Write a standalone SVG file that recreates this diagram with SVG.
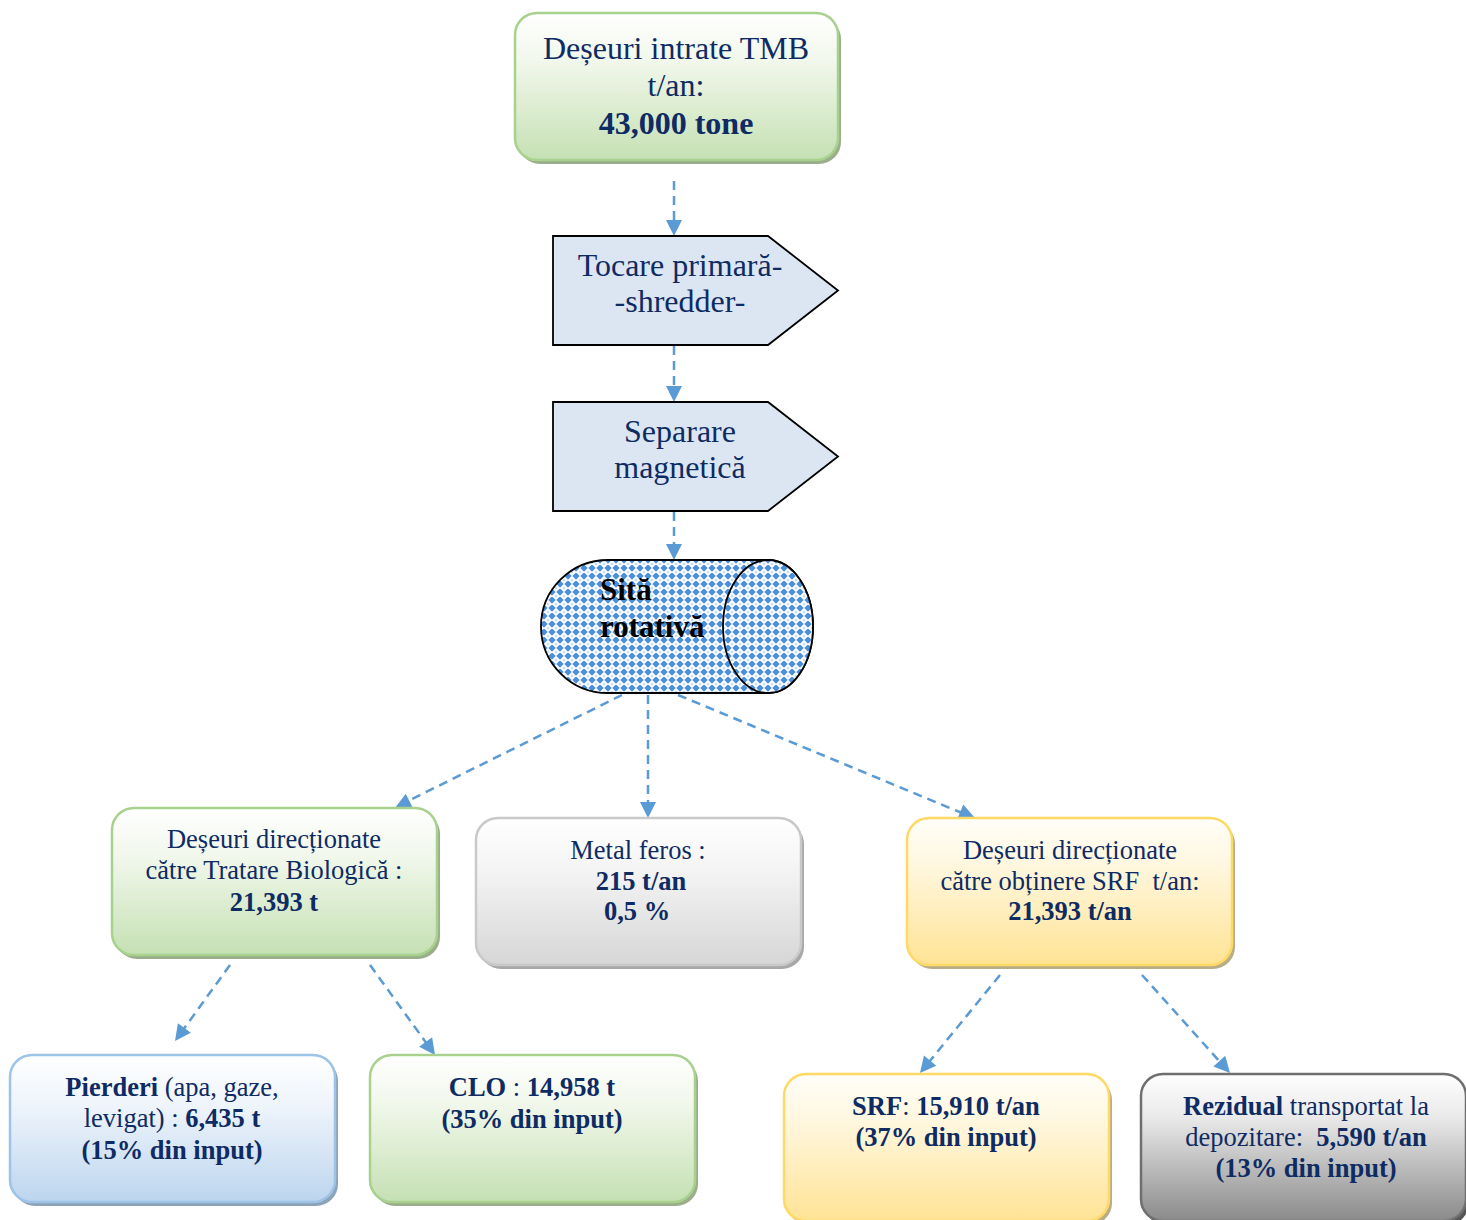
<svg xmlns="http://www.w3.org/2000/svg" width="1466" height="1220" viewBox="0 0 1466 1220">
<style>
.t{font-family:"Liberation Serif","Times New Roman",serif;fill:#0e2b63;text-anchor:middle}
.big{font-size:32px}
.sm{font-size:26.5px}
.b{font-weight:bold}
.conn{stroke:#5b9bd5;stroke-width:2.5;stroke-dasharray:9 6;fill:none}
.ahd{fill:#5b9bd5}
.shape{stroke:#000;stroke-width:1.8}
</style>
<defs>
<linearGradient id="gGreen" x1="0" y1="0" x2="0" y2="1"><stop offset="0" stop-color="#ffffff"/><stop offset="0.35" stop-color="#f0f7ea"/><stop offset="1" stop-color="#c5e0b3"/></linearGradient>
<linearGradient id="gGray" x1="0" y1="0" x2="0" y2="1"><stop offset="0" stop-color="#ffffff"/><stop offset="0.35" stop-color="#f4f4f4"/><stop offset="1" stop-color="#d6d6d6"/></linearGradient>
<linearGradient id="gYel" x1="0" y1="0" x2="0" y2="1"><stop offset="0" stop-color="#fffef8"/><stop offset="0.35" stop-color="#fff6dc"/><stop offset="1" stop-color="#ffe394"/></linearGradient>
<linearGradient id="gBlue" x1="0" y1="0" x2="0" y2="1"><stop offset="0" stop-color="#ffffff"/><stop offset="0.35" stop-color="#eef4fb"/><stop offset="1" stop-color="#bcd5ee"/></linearGradient>
<linearGradient id="gDark" x1="0" y1="0" x2="0" y2="1"><stop offset="0" stop-color="#ffffff"/><stop offset="0.3" stop-color="#e9e9e9"/><stop offset="1" stop-color="#8a8a8a"/></linearGradient>
<pattern id="net" width="8" height="8" patternUnits="userSpaceOnUse">
<rect width="8" height="8" fill="#4a90d9"/>
<path d="M4,-0.3 L8.3,4 L4,8.3 L-0.3,4 z" fill="#ffffff"/>
<path d="M4,2.4 L5.6,4 L4,5.6 L2.4,4 z" fill="#bcd8f3"/>
</pattern>
<path id="ah" d="M0,0 L-16,-8 L-16,8 z"/>
</defs>

<g id="connectors">
<line class="conn" x1="674" y1="181" x2="674" y2="222"/>
<use href="#ah" class="ahd" transform="translate(674,236) rotate(90)"/>
<line class="conn" x1="674" y1="346" x2="674" y2="388"/>
<use href="#ah" class="ahd" transform="translate(674,402) rotate(90)"/>
<line class="conn" x1="674" y1="512" x2="674" y2="546"/>
<use href="#ah" class="ahd" transform="translate(674,560) rotate(90)"/>
<line class="conn" x1="622" y1="695" x2="408" y2="801"/>
<use href="#ah" class="ahd" transform="translate(395,808) rotate(153.5)"/>
<line class="conn" x1="648" y1="695" x2="648" y2="804"/>
<use href="#ah" class="ahd" transform="translate(648,818) rotate(90)"/>
<line class="conn" x1="678" y1="695" x2="962" y2="813"/>
<use href="#ah" class="ahd" transform="translate(975,818) rotate(22.5)"/>
<line class="conn" x1="230" y1="965" x2="183" y2="1030"/>
<use href="#ah" class="ahd" transform="translate(175,1041) rotate(126)"/>
<line class="conn" x1="370" y1="965" x2="427" y2="1044"/>
<use href="#ah" class="ahd" transform="translate(435,1055) rotate(54.2)"/>
<line class="conn" x1="1000" y1="975" x2="929" y2="1062"/>
<use href="#ah" class="ahd" transform="translate(920,1073) rotate(129.2)"/>
<line class="conn" x1="1142" y1="975" x2="1221" y2="1063"/>
<use href="#ah" class="ahd" transform="translate(1230,1073) rotate(48.1)"/>
</g>

<g id="n-intrate">
<rect x="518" y="17" width="323" height="147" rx="22" fill="#9aae8c"/>
<rect x="515" y="13" width="323" height="147" rx="22" fill="url(#gGreen)" stroke="#a9d18e" stroke-width="2.5"/>
<text class="t big" x="676" y="59">Deșeuri intrate TMB</text>
<text class="t big" x="676" y="96">t/an:</text>
<text class="t big b" x="676" y="134">43,000 tone</text>
</g>

<g id="n-tocare">
<polygon class="shape" points="553,236 768,236 838,290.5 768,345 553,345" fill="#dce6f2"/>
<text class="t big" x="680" y="276">Tocare primară-</text>
<text class="t big" x="680" y="312">-shredder-</text>
</g>

<g id="n-separare">
<polygon class="shape" points="553,402 768,402 838,456.5 768,511 553,511" fill="#dce6f2"/>
<text class="t big" x="680" y="442">Separare</text>
<text class="t big" x="680" y="478">magnetică</text>
</g>

<g id="n-sita">
<path class="shape" d="M608,560 L768,560 A45,66.5 0 0 1 768,693 L608,693 A67,66.5 0 0 1 608,560 z" fill="url(#net)"/>
<ellipse class="shape" cx="768" cy="626.5" rx="45" ry="66.5" fill="url(#net)"/>
<text x="600" y="600" font-family="'Liberation Serif',serif" font-size="31" font-weight="bold" fill="#000">Sită</text>
<text x="600" y="637" font-family="'Liberation Serif',serif" font-size="31" font-weight="bold" fill="#000">rotativă</text>
</g>

<g id="n-bio">
<rect x="115" y="812" width="325" height="147" rx="22" fill="#9aae8c"/>
<rect x="112" y="808" width="325" height="147" rx="22" fill="url(#gGreen)" stroke="#a9d18e" stroke-width="2.5"/>
<text class="t sm" x="274" y="848">Deșeuri direcționate</text>
<text class="t sm" x="274" y="879">către Tratare Biologică :</text>
<text class="t sm b" x="274" y="911">21,393 t</text>
</g>

<g id="n-metal">
<rect x="479" y="822" width="325" height="147" rx="22" fill="#a8a8a8"/>
<rect x="476" y="818" width="325" height="147" rx="22" fill="url(#gGray)" stroke="#c9c9c9" stroke-width="2.5"/>
<text class="t sm" x="638" y="859">Metal feros :</text>
<text class="t sm b" x="641" y="890">215 t/an</text>
<text class="t sm b" x="637" y="920">0,5 %</text>
</g>

<g id="n-srfdir">
<rect x="910" y="822" width="325" height="147" rx="22" fill="#b9ad88"/>
<rect x="907" y="818" width="325" height="147" rx="22" fill="url(#gYel)" stroke="#ffd966" stroke-width="2.5"/>
<text class="t sm" x="1070" y="859">Deșeuri direcționate</text>
<text class="t sm" x="1070" y="890">către obținere SRF&#160; t/an:</text>
<text class="t sm b" x="1070" y="920">21,393 t/an</text>
</g>

<g id="n-pierderi">
<rect x="13" y="1059" width="325" height="147" rx="22" fill="#8da3b8"/>
<rect x="10" y="1055" width="325" height="147" rx="22" fill="url(#gBlue)" stroke="#9dc3e6" stroke-width="2.5"/>
<text class="t sm" x="172" y="1096"><tspan class="b">Pierderi</tspan> (apa, gaze,</text>
<text class="t sm" x="172" y="1127">levigat) : <tspan class="b">6,435 t</tspan></text>
<text class="t sm b" x="172" y="1159">(15% din input)</text>
</g>

<g id="n-clo">
<rect x="373" y="1059" width="325" height="147" rx="22" fill="#9aae8c"/>
<rect x="370" y="1055" width="325" height="147" rx="22" fill="url(#gGreen)" stroke="#a9d18e" stroke-width="2.5"/>
<text class="t sm" x="532" y="1096"><tspan class="b">CLO</tspan> : <tspan class="b">14,958 t</tspan></text>
<text class="t sm b" x="532" y="1128">(35% din input)</text>
</g>

<g id="n-srf">
<rect x="787" y="1078" width="325" height="147" rx="22" fill="#b9ad88"/>
<rect x="784" y="1074" width="325" height="147" rx="22" fill="url(#gYel)" stroke="#ffd966" stroke-width="2.5"/>
<text class="t sm" x="946" y="1115"><tspan class="b">SRF</tspan>: <tspan class="b">15,910 t/an</tspan></text>
<text class="t sm b" x="946" y="1146">(37% din input)</text>
</g>

<g id="n-rezidual">
<rect x="1144" y="1078" width="325" height="147" rx="22" fill="#555555"/>
<rect x="1141" y="1074" width="325" height="147" rx="22" fill="url(#gDark)" stroke="#6f6f6f" stroke-width="2.5"/>
<text class="t sm" x="1306" y="1115"><tspan class="b">Rezidual</tspan> transportat la</text>
<text class="t sm" x="1306" y="1146">depozitare:&#160; <tspan class="b">5,590 t/an</tspan></text>
<text class="t sm b" x="1306" y="1177">(13% din input)</text>
</g>
</svg>
